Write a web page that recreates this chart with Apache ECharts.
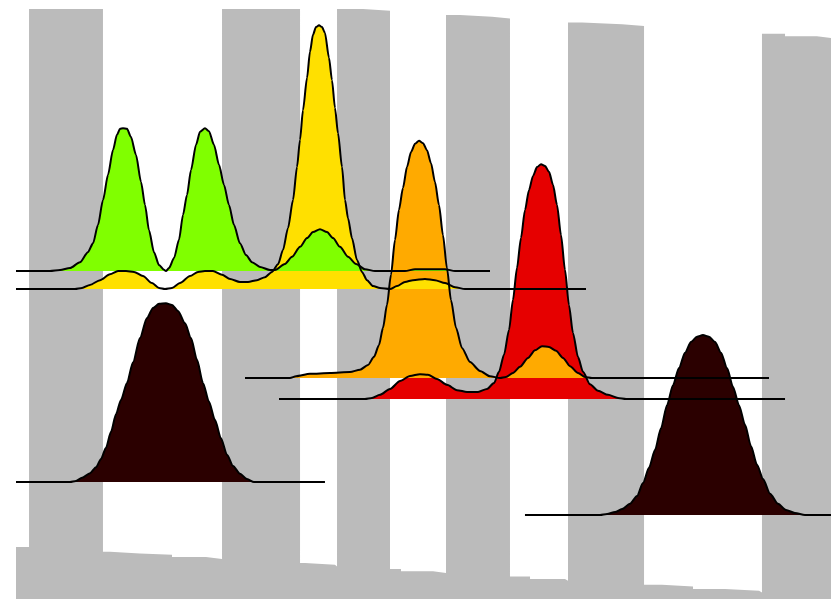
<!DOCTYPE html>
<html>
<head>
<meta charset="utf-8">
<script src="https://cdn.jsdelivr.net/npm/echarts@6/dist/echarts.min.js"></script>
<style>
html,body{margin:0;padding:0;background:#ffffff;}
#chart{width:831px;height:599px;}
</style>
</head>
<body>
<div id="chart"></div>
<script>
// ---- Background gray step bars (x breakpoints, heights; value holds until next breakpoint) ----
const grayX = [0, 1.6, 10.67, 11.53, 15.21, 19.14, 23.31, 25.28, 34.85, 35.46, 39.14, 39.39, 42.58, 45.89, 47.24, 51.17, 52.76, 54.48, 58.4, 60.61, 63.07, 67.36, 67.73, 69.45, 74.36, 77.06, 79.26, 83.07, 86.99, 91.17, 91.53, 94.36, 98.28, 100];
const grayH = [8.8, 100, 8.0, 7.7, 7.5, 7.1, 6.8, 100, 6.1, 5.8, 5.5, 100, 99.7, 5.1, 4.7, 4.4, 99.0, 98.7, 98.4, 3.8, 3.4, 3.1, 97.7, 97.4, 97.1, 2.4, 2.1, 1.7, 1.4, 1.1, 95.8, 95.4, 95.1, 95.1];

// ---- Ridge baselines ----
const greenBase = 55.59;
const yellowBase = 52.54;
const orangeBase = 37.46;
const redBase = 33.9;
const brown1Base = 19.83;
const brown2Base = 14.24;

// ---- Green ridge ----
const greenX = [0, 4.17, 5.40, 6.63, 7.85, 8.83, 9.45, 10.06, 10.67, 11.29, 11.9, 12.39, 12.76, 13.13, 13.62, 14.11, 14.72, 15.34, 15.83, 16.32, 16.93, 17.55, 18.16, 18.4, 18.77, 19.39, 20.0, 20.49, 20.98, 21.47, 22.09, 22.58, 23.19, 23.68, 24.29, 24.91, 25.52, 26.13, 26.75, 27.48, 28.22, 28.96, 29.94, 31.17, 31.78, 33.0, 33.87, 34.85, 35.71, 36.44, 37.3, 38.16, 38.9, 39.75, 40.74, 41.72, 42.82, 44.05, 47.73, 48.96, 52.64, 53.87, 58.16];
const greenD = [0, 0, 0.17, 0.5, 1.5, 3.2, 4.7, 7.8, 12.0, 16.3, 20.5, 23.1, 24.1, 24.2, 24.1, 22.7, 19.7, 15.1, 11.2, 6.9, 3.2, 1.0, 0.2, 0, 0.5, 2.2, 5.3, 9.5, 12.9, 17.1, 21.4, 23.6, 24.2, 23.7, 21.4, 18.0, 14.6, 11.2, 7.8, 4.7, 2.7, 1.5, 0.7, 0.17, 0.17, 1.2, 2.4, 4.1, 5.6, 6.6, 7.1, 6.6, 5.6, 4.1, 2.4, 1.2, 0.3, 0, 0, 0.3, 0.3, 0, 0];

// ---- Yellow ridge ----
const yellowX = [0, 7.24, 8.1, 9.08, 10.31, 11.53, 12.52, 13.5, 14.48, 15.58, 16.69, 17.55, 18.28, 19.14, 20.12, 21.35, 22.33, 23.19, 24.17, 25.28, 26.26, 27.48, 28.47, 29.57, 30.55, 31.41, 32.15, 32.76, 33.37, 33.99, 34.48, 34.85, 35.21, 35.71, 36.07, 36.44, 36.81, 37.18, 37.55, 37.91, 38.4, 38.77, 39.14, 39.51, 40.0, 40.37, 40.74, 41.23, 41.84, 42.45, 43.07, 43.8, 44.66, 45.89, 46.75, 47.73, 48.71, 50.18, 51.41, 52.64, 53.87, 55.09, 69.94];
const yellowD = [0, 0, 0.17, 0.7, 1.5, 2.5, 3.05, 3.05, 2.9, 2.2, 1.0, 0.17, 0, 0.17, 1.0, 2.2, 2.9, 3.05, 3.05, 2.4, 1.7, 1.2, 1.2, 1.5, 2.0, 2.9, 4.2, 6.6, 10.3, 15.1, 20.7, 25.3, 30.3, 35.8, 40.2, 43.1, 44.4, 44.7, 44.4, 43.4, 39.2, 35.4, 30.7, 26.4, 20.7, 15.1, 12.0, 8.6, 4.9, 2.9, 1.5, 0.5, 0.17, 0, 0.5, 1.2, 1.5, 1.7, 1.5, 1.0, 0.3, 0, 0];

// ---- Orange ridge ----
const orangeX = [28.1, 33.62, 34.36, 36.07, 38.53, 40.98, 42.21, 43.19, 43.93, 44.54, 45.03, 45.52, 46.01, 46.5, 46.99, 47.48, 47.98, 48.47, 48.96, 49.45, 49.94, 50.43, 50.92, 51.41, 51.9, 52.39, 52.88, 53.37, 53.99, 54.72, 55.71, 56.93, 58.16, 59.39, 60.12, 60.98, 61.84, 62.82, 63.68, 64.54, 65.4, 66.26, 67.12, 67.98, 68.96, 69.82, 70.67, 92.39];
const orangeD = [0, 0, 0.3, 0.7, 0.85, 1.0, 1.4, 2.2, 3.6, 5.6, 8.5, 12.4, 17.5, 23.4, 28.5, 32.2, 35.8, 38.3, 39.7, 40.2, 39.8, 38.6, 36.4, 33.2, 29.3, 24.2, 18.6, 13.2, 8.5, 5.1, 2.7, 1.2, 0.3, 0, 0.17, 0.85, 1.9, 3.4, 4.7, 5.4, 5.25, 4.6, 3.4, 2.0, 0.85, 0.17, 0, 0];

// ---- Red ridge ----
const redX = [32.27, 42.82, 43.68, 44.66, 45.89, 47.12, 48.34, 49.57, 50.55, 51.66, 52.88, 54.11, 55.34, 56.69, 57.79, 58.65, 59.26, 59.88, 60.49, 60.98, 61.47, 61.96, 62.45, 62.94, 63.44, 63.93, 64.42, 64.91, 65.4, 65.89, 66.38, 66.87, 67.36, 67.85, 68.34, 68.96, 69.57, 70.43, 71.41, 72.64, 73.87, 74.85, 94.36];
const redD = [0, 0, 0.17, 0.7, 1.7, 3.05, 3.9, 4.2, 4.1, 3.4, 2.4, 1.5, 1.2, 1.2, 1.7, 2.7, 4.6, 7.5, 11.7, 16.8, 22.2, 27.3, 32.0, 35.4, 37.8, 39.3, 39.8, 39.5, 38.5, 36.3, 32.9, 27.8, 21.9, 15.9, 11.2, 7.1, 4.6, 2.5, 1.4, 0.7, 0.17, 0, 0];

// ---- Dark ridge 1 ----
const brown1X = [0, 6.63, 7.36, 8.1, 9.08, 9.82, 10.43, 11.04, 11.66, 12.27, 12.88, 13.62, 14.36, 15.21, 16.07, 16.81, 17.55, 18.4, 19.14, 19.88, 20.74, 21.47, 22.21, 22.94, 23.68, 24.42, 25.15, 25.89, 26.63, 27.48, 28.34, 29.2, 37.91];
const brown1D = [0, 0, 0.17, 0.7, 1.5, 2.5, 3.9, 5.8, 8.5, 11.5, 13.9, 16.8, 20.3, 24.4, 27.8, 29.5, 30.2, 30.3, 30.0, 29.0, 26.9, 24.4, 20.7, 16.8, 13.6, 10.5, 7.4, 4.6, 2.7, 1.4, 0.5, 0, 0];

// ---- Dark ridge 2 ----
const brown2X = [62.45, 71.66, 72.52, 73.5, 74.36, 75.34, 76.2, 76.93, 77.67, 78.4, 79.14, 79.88, 80.61, 81.35, 82.09, 82.82, 83.56, 84.29, 85.03, 85.77, 86.5, 87.24, 87.98, 88.71, 89.45, 90.18, 90.92, 91.66, 92.52, 93.5, 94.48, 95.58, 96.81, 100];
const brown2D = [0, 0, 0.17, 0.5, 1.0, 1.9, 3.2, 5.4, 8.0, 11.0, 14.7, 18.6, 22.0, 24.9, 27.5, 29.3, 30.2, 30.5, 30.2, 29.3, 27.5, 24.9, 21.7, 18.6, 15.3, 11.7, 8.5, 6.1, 3.6, 1.9, 0.85, 0.34, 0, 0];

// ---- build ----
function toPairs(xs, ds, base) {
  const n = Math.min(xs.length, ds.length);
  const out = [];
  for (let i = 0; i < n; i++) out.push([xs[i], base + ds[i]]);
  return out;
}
const grayData = [];
for (let i = 0; i < Math.min(grayX.length, grayH.length); i++) grayData.push([grayX[i], grayH[i]]);

// drawn from back to front: lower ridges first
const ridges = [
  { x: brown2X, d: brown2D, base: brown2Base, color: '#2b0000' },
  { x: brown1X, d: brown1D, base: brown1Base, color: '#2b0000' },
  { x: redX, d: redD, base: redBase, color: '#e60000' },
  { x: orangeX, d: orangeD, base: orangeBase, color: '#ffaa00' },
  { x: yellowX, d: yellowD, base: yellowBase, color: '#ffe000' },
  { x: greenX, d: greenD, base: greenBase, color: '#80ff00' }
];

const series = [{
  type: 'line',
  step: 'end',
  data: grayData,
  symbol: 'none',
  silent: true,
  lineStyle: { width: 0, opacity: 0 },
  areaStyle: { color: '#bbbbbb', opacity: 1, origin: 'start' },
  z: 1
}];
ridges.forEach(function (r) {
  series.push({
    type: 'line',
    data: toPairs(r.x, r.d, r.base),
    symbol: 'none',
    smooth: 0.25,
    smoothMonotone: 'x',
    silent: true,
    lineStyle: { color: '#000000', width: 2 },
    areaStyle: { color: r.color, opacity: 1, origin: r.base },
    z: 2
  });
});

const chart = echarts.init(document.getElementById('chart'), null, { renderer: 'canvas' });
chart.setOption({
  animation: false,
  backgroundColor: '#ffffff',
  grid: { left: 16, right: 0, top: 9, bottom: 0 },
  xAxis: { type: 'value', min: 0, max: 100, show: false },
  yAxis: { type: 'value', min: 0, max: 100, show: false },
  series: series
});
</script>
</body>
</html>
